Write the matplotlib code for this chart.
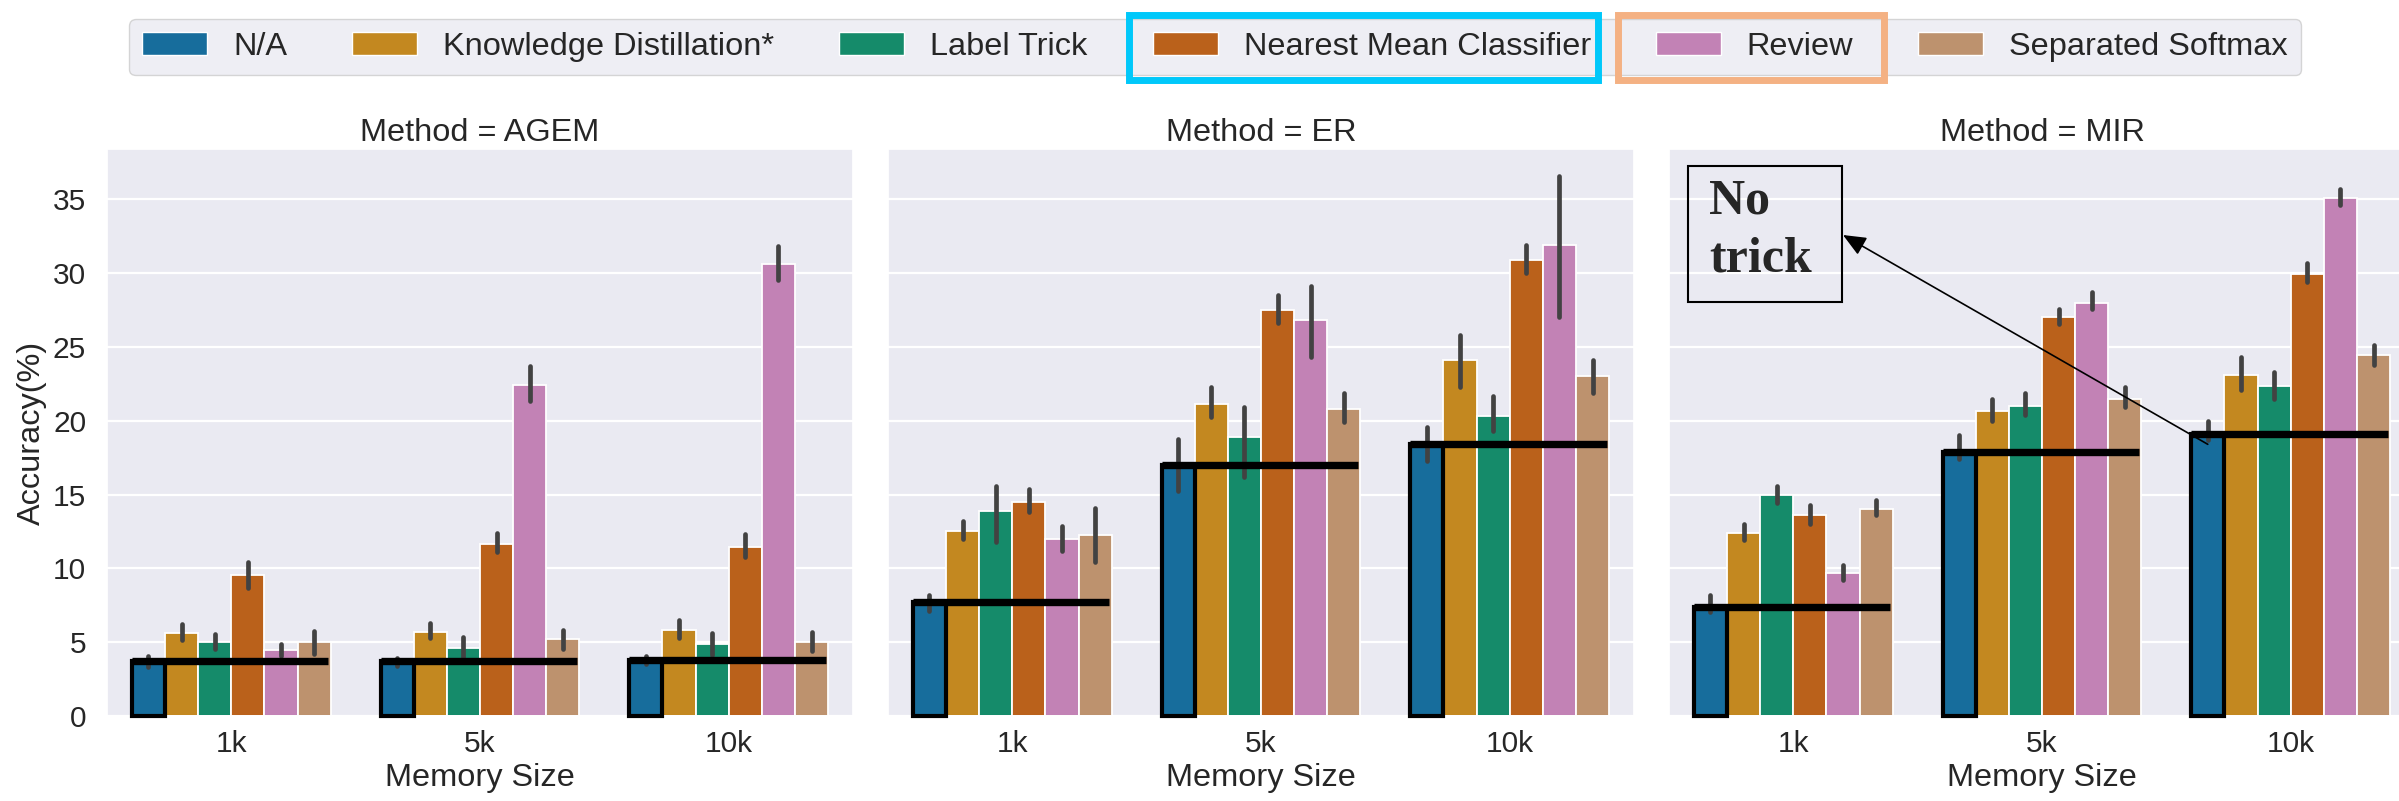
import matplotlib
matplotlib.use('Agg')
import matplotlib.pyplot as plt
import matplotlib.patches as mpatches
import numpy as np
import seaborn as sns

# categories
memory_sizes = ['1k', '5k', '10k']
methods = ['AGEM', 'ER', 'MIR']
tricks = ['N/A', 'Knowledge Distillation*', 'Label Trick',
          'Nearest Mean Classifier', 'Review', 'Separated Softmax']

# mean accuracy per trick (rows) and memory size (cols)
agem_mean = [[3.7, 3.7, 3.8], [5.6, 5.72, 5.81], [4.98, 4.59, 4.86],
             [9.53, 11.67, 11.46], [4.46, 22.43, 30.58], [4.98, 5.2, 5.02]]
agem_lo = [[3.3, 3.4, 3.5], [5.15, 5.25, 5.29], [4.57, 3.85, 4.12],
           [8.7, 11.1, 10.8], [4.07, 21.3, 29.5], [4.19, 4.57, 4.37]]
agem_hi = [[4.07, 3.95, 4.07], [6.2, 6.3, 6.49], [5.54, 5.38, 5.65],
           [10.43, 12.4, 12.3], [4.86, 23.7, 31.8], [5.76, 5.83, 5.72]]

er_mean = [[7.7, 17.0, 18.4], [12.52, 21.15, 24.1], [13.87, 18.9, 20.35],
           [14.5, 27.5, 30.9], [12.0, 26.8, 31.9], [12.23, 20.8, 23.0]]
er_lo = [[7.12, 15.22, 17.25], [12.0, 20.25, 22.3], [11.8, 16.2, 19.3],
         [13.8, 26.6, 30.0], [11.2, 24.3, 27.05], [10.4, 19.9, 21.9]]
er_hi = [[8.18, 18.76, 19.6], [13.2, 22.3, 25.8], [15.6, 20.9, 21.7],
         [15.4, 28.5, 31.9], [12.9, 29.1, 36.6], [14.1, 21.9, 24.1]]

mir_mean = [[7.4, 17.9, 19.1], [12.36, 20.63, 23.1], [15.0, 21.0, 22.36],
            [13.6, 27.0, 29.93], [9.66, 28.0, 35.1], [13.99, 21.5, 24.46]]
mir_lo = [[7.05, 17.4, 18.7], [11.9, 19.95, 22.1], [14.4, 20.4, 21.5],
          [13.0, 26.55, 29.4], [9.2, 27.55, 34.6], [13.6, 20.95, 23.8]]
mir_hi = [[8.18, 19.0, 20.0], [13.0, 21.5, 24.3], [15.6, 21.9, 23.3],
          [14.3, 27.55, 30.65], [10.2, 28.7, 35.7], [14.6, 22.3, 25.1]]

all_mean = [agem_mean, er_mean, mir_mean]
all_lo = [agem_lo, er_lo, mir_lo]
all_hi = [agem_hi, er_hi, mir_hi]

sns.set_theme(style='darkgrid')
plt.rcParams['font.family'] = ['Liberation Sans', 'DejaVu Sans']
colors = sns.color_palette('colorblind', desat=0.75)

W, H = 2399, 801
fig = plt.figure(figsize=(W / 100, H / 100), dpi=100)

lefts = [107, 888, 1669]
ax_w = 746
ax_top, ax_bot = 149, 716
n = len(tricks)
bw = 0.8 / n
x = np.arange(len(memory_sizes))

axes = []
for k, method in enumerate(methods):
    ax = fig.add_axes([lefts[k] / W, 1 - ax_bot / H, ax_w / W, (ax_bot - ax_top) / H])
    axes.append(ax)
    mean = np.array(all_mean[k])
    lo = np.array(all_lo[k])
    hi = np.array(all_hi[k])
    for j in range(n):
        xs = x - 0.4 + (j + 0.5) * bw
        ax.bar(xs, mean[j], width=bw, color=colors[j], edgecolor='white',
               linewidth=1.3, zorder=2)
        ax.vlines(xs, lo[j], hi[j], color='#424242', linewidth=3.4,
                  capstyle='round', zorder=3)
    # highlight the "no trick" bar and its level
    xs0 = x - 0.4 + 0.5 * bw
    ax.bar(xs0, mean[0], width=bw, fill=False, edgecolor='black',
           linewidth=3, zorder=4, clip_on=False)
    ax.hlines(mean[0], x - 0.4, x + 0.39, color='black', linewidth=5.3, zorder=5)

    ax.set_xlim(-0.5, 2.5)
    ax.set_ylim(0, 38.4)
    ax.set_xticks(x)
    ax.set_xticklabels(memory_sizes)
    ax.set_yticks([0, 5, 10, 15, 20, 25, 30, 35])
    ax.grid(axis='x', visible=False)
    ax.grid(axis='y', color='white', linewidth=1.6)
    ax.tick_params(axis='x', labelsize=21.5, pad=10, length=0)
    ax.tick_params(axis='y', labelsize=21.5, pad=15, length=0)
    ax.set_xlabel('Memory Size', fontsize=23.4, labelpad=4)
    ax.set_title('Method = ' + method, fontsize=23.4, pad=6)
    if k == 0:
        ax.set_ylabel('Accuracy(%)', fontsize=23.4, labelpad=4)
    else:
        ax.set_yticklabels([])
        ax.set_ylabel('')

# legend
handles = [mpatches.Patch(facecolor=colors[j], edgecolor='white') for j in range(n)]
fig.legend(handles, tricks, loc='upper center', bbox_to_anchor=(1215 / W, 1 - 19 / H),
           ncol=n, fontsize=23.4, borderaxespad=0, frameon=True,
           facecolor='#EAEAF2', edgecolor='0.8', framealpha=0.8)

# highlight boxes around two legend entries
def fig_box(x0, y0, x1, y1, color, lw):
    r = mpatches.Rectangle((x0 / W, 1 - y1 / H), (x1 - x0) / W, (y1 - y0) / H,
                           transform=fig.transFigure, fill=False,
                           edgecolor=color, linewidth=lw, zorder=10)
    fig.add_artist(r)

fig_box(1128.5, 14.5, 1597.5, 79.5, '#00C8FA', 5)
fig_box(1617.5, 14.5, 1883.5, 79.5, '#F4B183', 5)

# "No trick" note with arrow
fig_box(1688, 166, 1842, 302, 'black', 1.5)
note_font = dict(fontsize=36, fontweight='bold', ha='left', va='baseline',
                 family=['Liberation Serif', 'DejaVu Serif'])
fig.text(1709 / W, 1 - 213 / H, 'No', **note_font)
fig.text(1709 / W, 1 - 272 / H, 'trick', **note_font)
axes[2].annotate('', xy=(1843 / W, 1 - 235 / H), xycoords='figure fraction',
                 xytext=(2 - 0.4 + 0.5 * bw, 18.4), textcoords='data',
                 arrowprops=dict(arrowstyle='-|>,head_length=0.7,head_width=0.3',
                                 color='black', lw=1.2, shrinkA=0, shrinkB=0,
                                 mutation_scale=20),
                 annotation_clip=False, zorder=11)

fig.savefig('out.png', dpi=100)
